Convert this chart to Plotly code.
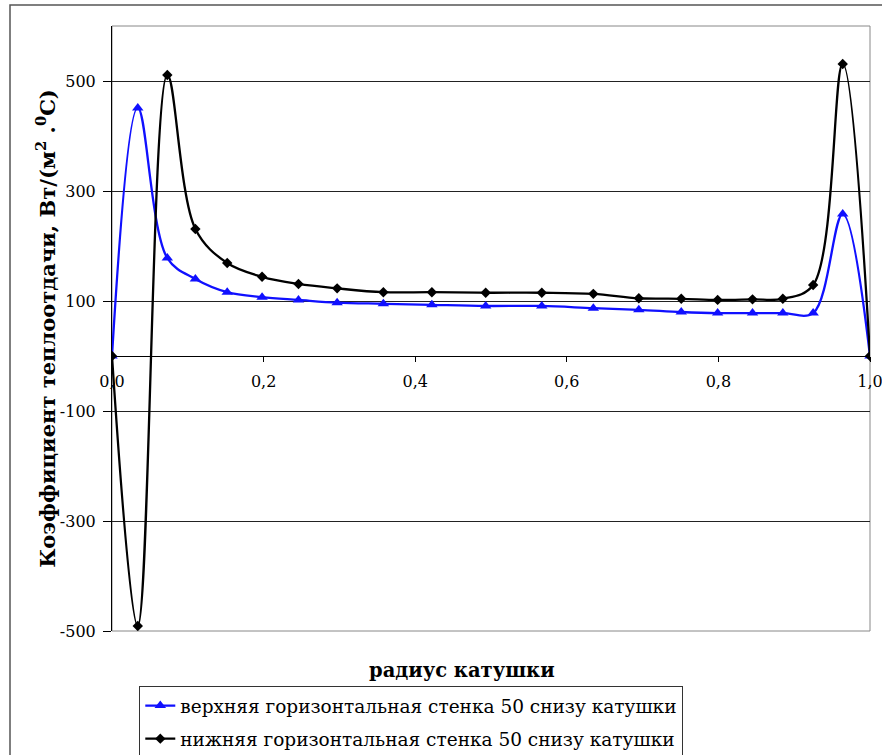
import plotly.graph_objects as go

# ---- data ----
radius = [0, 0.034, 0.073, 0.11, 0.152, 0.198, 0.246, 0.297, 0.358, 0.422, 0.493,
          0.567, 0.635, 0.695, 0.751, 0.799, 0.845, 0.885, 0.925, 0.964, 1.0]
upper_wall = [0, 451, 178, 140, 116, 107, 102, 97, 95, 93, 91,
              91, 87, 84, 80, 78, 78, 78, 78, 258, 0]
lower_wall = [0, -491, 511, 231, 169, 144, 131, 123, 116, 116, 115,
              115, 113, 105, 104, 102, 103, 104, 129, 531, 0]

upper_name = "верхняя горизонтальная стенка 50 снизу катушки"
lower_name = "нижняя горизонтальная стенка 50 снизу катушки"

x_tickvals = [0.0, 0.2, 0.4, 0.6, 0.8, 1.0]
x_ticktext = ["0,0", "0,2", "0,4", "0,6", "0,8", "1,0"]
y_tickvals = [-500, -300, -100, 100, 300, 500]
y_ticktext = ["-500", "-300", "-100", "100", "300", "500"]

x_title = "радиус катушки"
y_title = "Коэффициент теплоотдачи, Вт/(м<sup>2</sup> .<sup>0</sup>С)"

Y_MIN, Y_MAX = -500, 600
FONT = "DejaVu Serif"

fig = go.Figure()
fig.add_trace(go.Scatter(
    x=radius, y=upper_wall, name=upper_name, mode="lines+markers",
    legendgroup="upper",
    line=dict(color="#1010ff", width=2.3, shape="spline", smoothing=1),
    marker=dict(symbol="triangle-up", size=10, color="#1010ff"),
))
fig.add_trace(go.Scatter(
    x=radius, y=lower_wall, name=lower_name, mode="lines+markers",
    legendgroup="lower",
    line=dict(color="#000000", width=2.3, shape="spline", smoothing=1),
    marker=dict(symbol="diamond", size=8, color="#000000"),
))

zero_pos = (0 - Y_MIN) / (Y_MAX - Y_MIN)

fig.update_layout(
    template="none",
    width=882, height=755,
    margin=dict(l=112, r=12, t=26, b=124, autoexpand=False),
    paper_bgcolor="white", plot_bgcolor="white",
    font=dict(family=FONT, size=16, color="black"),
    showlegend=True,
    legend=dict(
        x=0.036, y=-0.091, xanchor="left", yanchor="top",
        bgcolor="white", bordercolor="#333333", borderwidth=1,
        font=dict(family=FONT, size=18.5, color="black"),
        itemwidth=30, traceorder="grouped", tracegroupgap=6,
    ),
    xaxis=dict(
        range=[0, 1], anchor="free", position=zero_pos,
        tickvals=x_tickvals, ticktext=x_ticktext,
        showgrid=False, zeroline=False,
        showline=True, linecolor="black", linewidth=1,
        ticks="outside", ticklen=5, tickcolor="black",
        ticklabelstandoff=6, ticklabeloverflow="allow",
        tickfont=dict(family=FONT, size=16, color="black"),
    ),
    yaxis=dict(
        range=[Y_MIN, Y_MAX],
        tickvals=y_tickvals, ticktext=y_ticktext,
        showgrid=True, gridcolor="#222222", gridwidth=1,
        zeroline=False,
        showline=True, linecolor="black", linewidth=1,
        ticks="outside", ticklen=8, tickcolor="black",
        ticklabelstandoff=4,
        tickfont=dict(family=FONT, size=16, color="black"),
    ),
    annotations=[
        dict(text="<b>" + x_title + "</b>", xref="paper", yref="paper",
             x=0.462, y=-0.066, xanchor="center", yanchor="middle",
             showarrow=False, font=dict(family=FONT, size=19.5, color="black")),
        dict(text="<b>" + y_title + "</b>", xref="paper", yref="paper",
             x=-0.088, y=0.50, xanchor="center", yanchor="middle", textangle=-90,
             showarrow=False, font=dict(family=FONT, size=21, color="black")),
    ],
    shapes=[
        dict(type="rect", xref="paper", yref="paper", x0=0, x1=1, y0=0, y1=1,
             line=dict(color="#888888", width=1), layer="below"),
        dict(type="rect", xref="paper", yref="paper",
             x0=(10 - 112) / 758, x1=(890 - 112) / 758,
             y0=(631 - 770) / 605, y1=(631 - 5) / 605,
             line=dict(color="#555555", width=1.5), layer="below"),
    ],
)

fig.write_html("out.html")
